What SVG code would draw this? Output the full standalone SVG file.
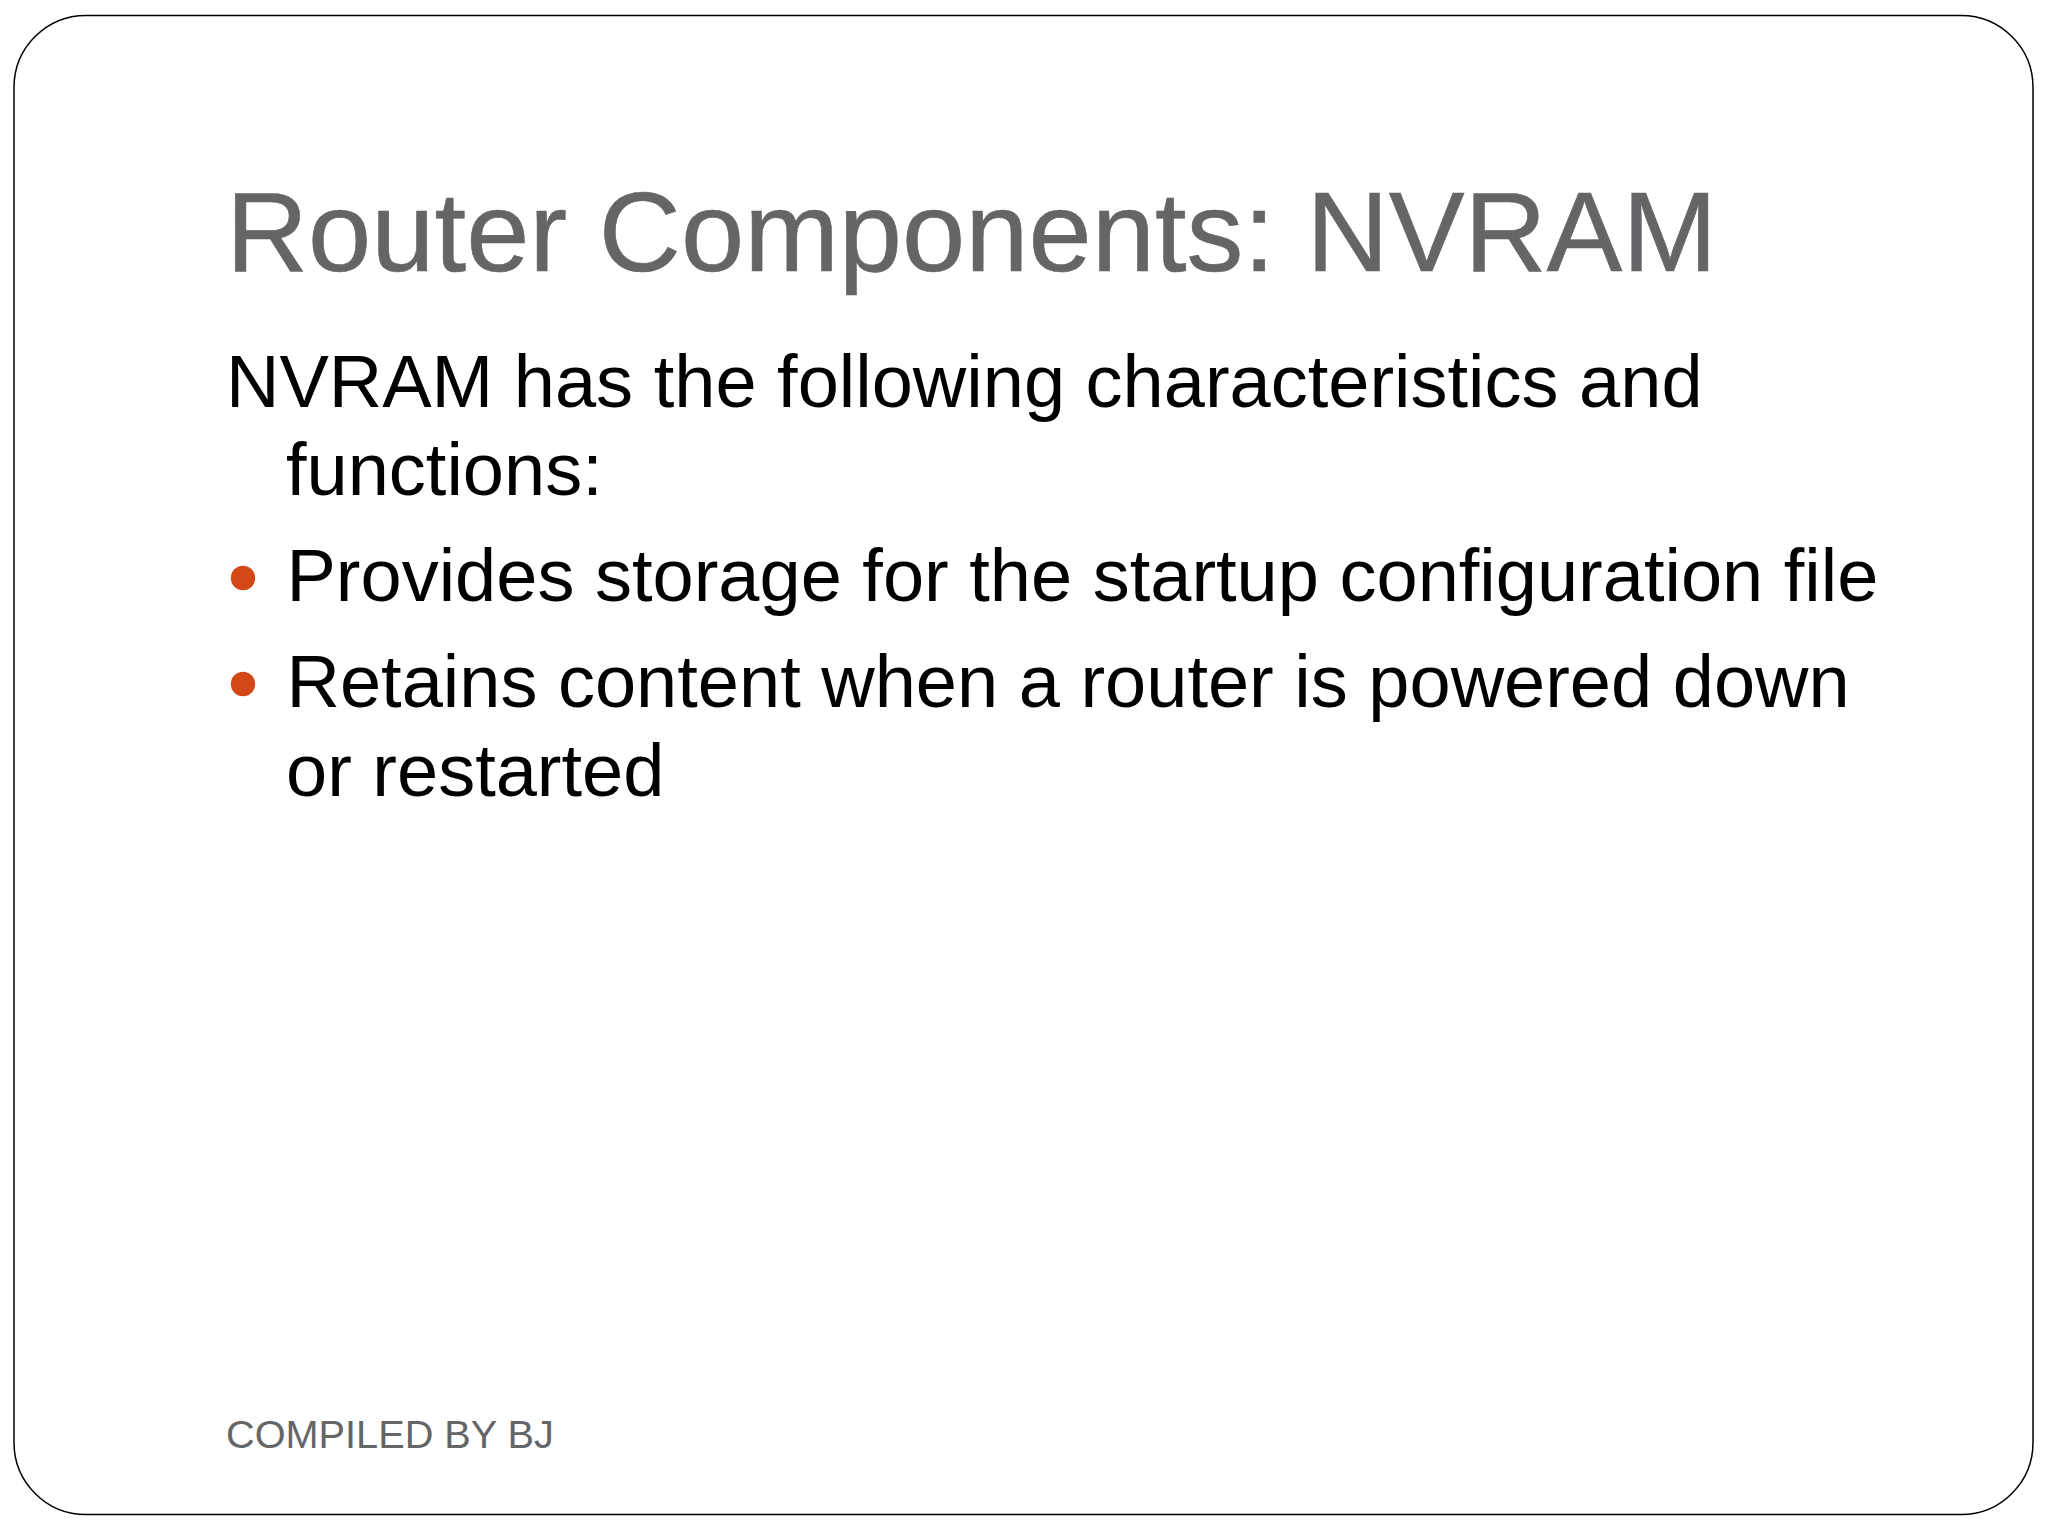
<svg xmlns="http://www.w3.org/2000/svg" width="2048" height="1536" viewBox="0 0 2048 1536">
<style>
text{font-family:"Liberation Sans",Arial,sans-serif}
.b{font-size:74px;fill:#000}
.bul{fill:#d34817}
</style>
<rect width="2048" height="1536" fill="#fff"/>
<rect id="frame" x="14" y="15.500" width="2019" height="1499" rx="72" ry="72" fill="#fff" stroke="#000" stroke-width="1.500"/>
<g id="title"><text x="226" y="271" font-size="113.700" fill="#646567" stroke="#646567" stroke-width="0.600">Router Components: NVRAM</text></g>
<g id="body">
<text class="b" x="226" y="406.500">NVRAM has the following characteristics and</text>
<text class="b" x="286" y="495">functions:</text>
<circle class="bul" cx="243" cy="578" r="12.200"/>
<text class="b" x="286.500" y="601">Provides storage for the startup configuration file</text>
<circle class="bul" cx="243" cy="684" r="12.200"/>
<text class="b" x="286.500" y="707">Retains content when a router is powered down</text>
<text class="b" x="286" y="796">or restarted</text>
</g>
<g id="footer"><text x="226" y="1448" font-size="39.700" fill="#646567">COMPILED BY BJ</text></g>
</svg>
